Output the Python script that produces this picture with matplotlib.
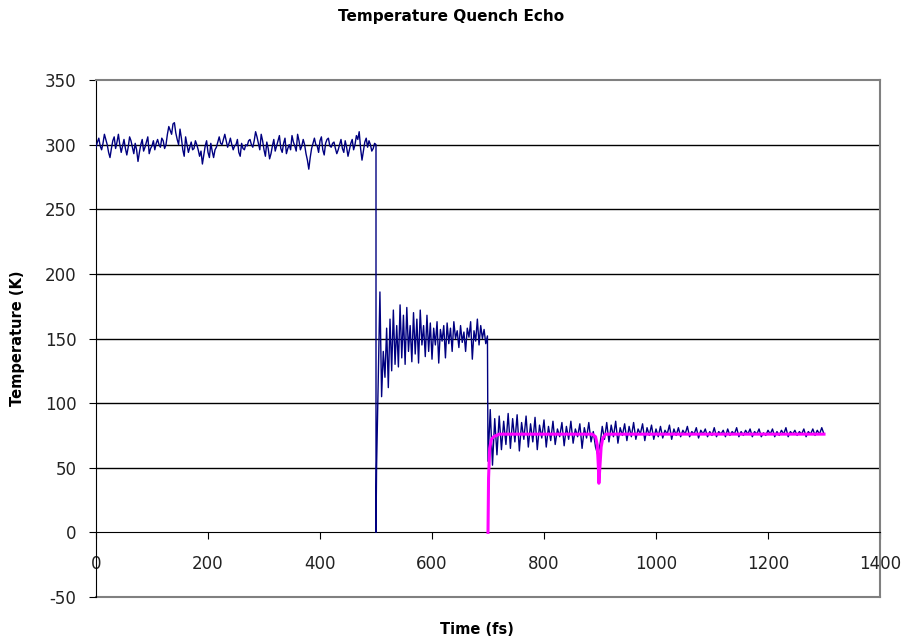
import numpy as np
import matplotlib
matplotlib.use("Agg")
import matplotlib.pyplot as plt

plt.rcParams["axes.unicode_minus"] = False

# ===============================
# DATA
# ===============================

# first stage: 300 K, sampled every 2.5 fs from 0 to 500 fs
stage1_temp = [
    298, 302, 305, 299, 296, 301, 308, 304, 300, 294,
    290, 297, 303, 306, 297, 302, 308, 300, 294, 299,
    304, 297, 292, 298, 306, 303, 298, 293, 301, 296,
    287, 294, 300, 304, 295, 298, 302, 306, 293, 297,
    299, 303, 296, 301, 304, 300, 298, 305, 303, 297,
    300, 308, 314, 311, 308, 316, 317, 309, 304, 300,
    312, 305, 296, 291, 306, 300, 294, 298, 302, 296,
    297, 303, 300, 296, 291, 295, 285, 292, 299, 303,
    294, 290, 301, 295, 290, 296, 298, 302, 306, 301,
    300, 304, 308, 303, 298, 301, 305, 300, 296, 299,
    300, 304, 294, 291, 301, 297, 296, 300, 299, 303,
    304, 300, 298, 303, 310, 306, 301, 296, 308, 303,
    296, 291, 302, 297, 289, 293, 299, 304, 295, 299,
    303, 307, 297, 294, 301, 305, 293, 297, 300, 296,
    307, 302, 299, 295, 308, 303, 296, 299, 304, 300,
    293, 288, 281, 290, 297, 301, 305, 300, 299, 294,
    303, 306, 296, 292, 301, 304, 305, 299, 298, 301,
    302, 297, 293, 296, 300, 304, 297, 294, 303, 298,
    291, 296, 301, 304, 296, 300, 307, 304, 310, 297,
    288, 295, 302, 305, 298, 303, 300, 295, 297, 301,
    300,
]

# quench at 500 fs
quench1_time = [500]
quench1_temp = [0]

# second stage: 150 K, sampled every 3 fs from 501 fs
stage2_temp = [
    50, 118, 186, 105, 140, 120, 158, 112, 165, 125,
    172, 130, 160, 128, 176, 135, 168, 130, 174, 140,
    160, 132, 170, 138, 165, 131, 172, 145, 160, 136,
    168, 140, 162, 134, 158, 145, 163, 131, 157, 148,
    160, 135, 162, 146, 158, 140, 163, 150, 156, 143,
    160, 147, 155, 140, 158, 151, 163, 134, 156, 148,
    165, 145, 160, 150, 157, 146, 152,
]

# third stage: 75 K, sampled every 4 fs from 700 fs
stage3_temp = [
    55, 95, 52, 88, 60, 90, 64, 86, 68, 92,
    65, 88, 70, 91, 63, 85, 72, 90, 66, 84,
    70, 89, 64, 83, 73, 87, 66, 82, 71, 86,
    68, 80, 74, 85, 67, 82, 72, 86, 69, 80,
    74, 84, 65, 81, 73, 85, 70, 78, 66, 60,
    68, 82, 72, 85, 70, 83, 74, 86, 69, 81,
    75, 84, 71, 82, 74, 85, 72, 80, 76, 84,
    71, 81, 75, 83, 72, 80, 74, 82, 73, 79,
    76, 83, 72, 80, 75, 81, 74, 79, 76, 82,
    74, 78, 76, 81, 73, 79, 76, 80, 74, 78,
    75, 81, 74, 78, 76, 79, 74, 80, 75, 78,
    76, 81, 74, 78, 75, 79, 76, 80, 74, 78,
    76, 80, 74, 77, 75, 79, 76, 80, 74, 78,
    75, 79, 76, 81, 74, 78, 76, 79, 75, 78,
    76, 80, 74, 78, 76, 80, 75, 79, 76, 81,
    76,
]

# target (thermostat) temperature after the second quench
target_time = [700, 701, 703, 706, 710, 720, 886, 892, 895, 897, 898, 900, 902, 905, 910, 1300]
target_temp = [0, 42, 65, 72, 74, 76, 76, 74, 68, 52, 38, 52, 66, 73, 76, 76]

stage1_time = 2.5 * np.arange(len(stage1_temp))
stage2_time = 501 + 3 * np.arange(len(stage2_temp))
stage3_time = 700 + 4 * np.arange(len(stage3_temp))

time_fs = np.concatenate([stage1_time, quench1_time, stage2_time, stage3_time])
temp_k = np.concatenate([stage1_temp, quench1_temp, stage2_temp, stage3_temp])

# ===============================
# PLOT
# ===============================
fig = plt.figure(figsize=(9.02, 6.43), dpi=100)
ax = fig.add_axes([96 / 902, 1 - 597 / 643, 784 / 902, 517 / 643])

for y in [50, 100, 150, 200, 250, 300]:
    ax.axhline(y, color="black", linewidth=1.0, zorder=1)
ax.axhline(-50, color="#808080", linewidth=1.5, zorder=1, clip_on=False)

ax.plot(time_fs, temp_k, color="#000080", linewidth=1.0, zorder=3)
ax.plot(target_time, target_temp, color="#FF00FF", linewidth=2.2, zorder=4)

ax.set_xlim(0, 1400)
ax.set_ylim(-50, 350)
ax.set_xticks(range(0, 1401, 200))
ax.set_yticks(range(-50, 351, 50))

ax.spines["bottom"].set_position(("data", 0))
ax.spines["bottom"].set_color("black")
ax.spines["left"].set_color("black")
ax.spines["top"].set_color("#808080")
ax.spines["right"].set_color("#808080")
ax.spines["top"].set_linewidth(1.5)
ax.spines["right"].set_linewidth(1.5)

ax.tick_params(axis="x", direction="out", length=5, pad=11, labelsize=12, colors="black")
ax.tick_params(axis="y", direction="out", length=5, pad=9, labelsize=12, colors="black")
for lbl in ax.get_xticklabels() + ax.get_yticklabels():
    lbl.set_color("#222222")

fig.text(0.5, 1 - 17 / 643, "Temperature Quench Echo", ha="center", va="center",
         fontsize=11, fontweight="bold")
fig.text(477 / 902, 1 - 630 / 643, "Time (fs)", ha="center", va="center",
         fontsize=10.5, fontweight="bold")
fig.text(18 / 902, 1 - 338 / 643, "Temperature (K)", ha="center", va="center",
         rotation=90, fontsize=10.5, fontweight="bold")

plt.savefig("out.png", dpi=100)
